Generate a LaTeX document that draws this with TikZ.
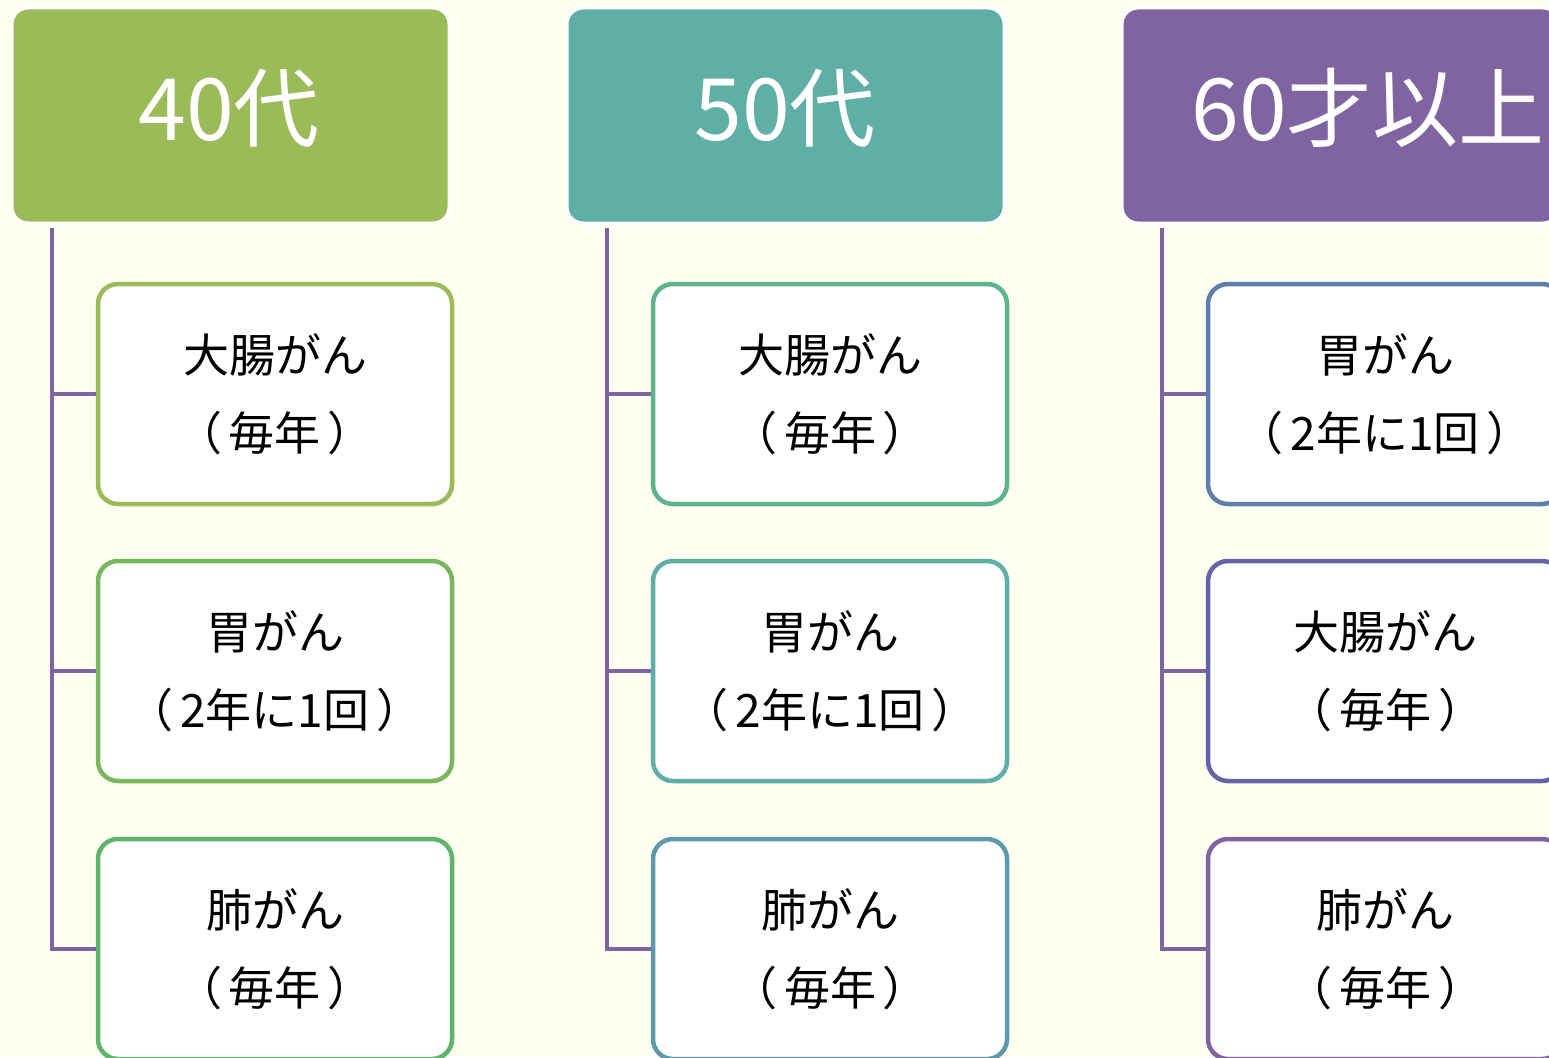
\documentclass[tikz,border=0pt]{standalone}
\usepackage{fontspec}
\newfontfamily\jpfont{Noto Sans CJK JP}
\newcommand\kakko[1]{（\kern7pt#1\kern7pt）}
\definecolor{bgcream}{HTML}{FEFFF0}
\definecolor{agegreen}{HTML}{9BBB59}
\definecolor{ageteal}{HTML}{5FAFA6}
\definecolor{agepurple}{HTML}{8064A2}
\definecolor{ka}{HTML}{9BBB59}
\definecolor{kb}{HTML}{78B75B}
\definecolor{kc}{HTML}{5DB46A}
\definecolor{kd}{HTML}{5DB38C}
\definecolor{ke}{HTML}{5FAFA6}
\definecolor{kf}{HTML}{5F99AD}
\definecolor{kg}{HTML}{5F7EAE}
\definecolor{kh}{HTML}{6563A8}
\definecolor{ki}{HTML}{8064A2}
\begin{document}
\begin{tikzpicture}[x=1pt,y=-1pt]
        \tikzstyle{agebox}=[rectangle,rounded corners=16pt,draw=white,line width=3pt,minimum width=437pt,minimum height=215pt,inner sep=0pt]
        \tikzstyle{agetext}=[text=white,font=\jpfont\fontsize{86}{90}\selectfont,inner sep=0pt]
        \tikzstyle{exam}=[rectangle,rounded corners=20pt,fill=white,line width=4.5pt,minimum width=354pt,minimum height=220pt,inner sep=0pt,align=center,font=\jpfont\fontsize{46}{78}\selectfont]
        \tikzstyle{edge}=[draw=agepurple,line width=4pt]
        \useasboundingbox (0,0) rectangle (1549,1057);
        \fill[bgcream] (0,0) rectangle (1549,1057);
        \clip (0,0) rectangle (1549,1057);
       % headers
         \node [agebox,fill=agegreen] (h1) at (230.5,115.5) {};
         \node [agebox,fill=ageteal] (h2) at (785.5,115.5) {};
         \node [agebox,fill=agepurple] (h3) at (1340.5,115.5) {};
         \node [agetext] (l1) at (229,108) {40代};
         \node [agetext] (l2) at (785,108) {50代};
         \node [agetext] (l3) at (1368,108) {60才以上};
       % 40
         \node [exam,draw=ka] (k11) at (275,394) {大腸がん\\\kakko{毎年}};
         \node [exam,draw=kb] (k12) at (275,671) {胃がん\\\kakko{2年に1回}};
         \node [exam,draw=kc] (k13) at (275,949) {肺がん\\\kakko{毎年}};
       % 50
         \node [exam,draw=kd] (k21) at (830,394) {大腸がん\\\kakko{毎年}};
         \node [exam,draw=ke] (k22) at (830,671) {胃がん\\\kakko{2年に1回}};
         \node [exam,draw=kf] (k23) at (830,949) {肺がん\\\kakko{毎年}};
       % 60
         \node [exam,draw=kg] (k31) at (1385,394) {胃がん\\\kakko{2年に1回}};
         \node [exam,draw=kh] (k32) at (1385,671) {大腸がん\\\kakko{毎年}};
         \node [exam,draw=ki] (k33) at (1385,949) {肺がん\\\kakko{毎年}};
       % lines
         \coordinate (t1) at (52,228);
         \coordinate (t2) at (607,228);
         \coordinate (t3) at (1162,228);
         \path[edge] (t1) |- (k13.west);
         \path[edge] (t1 |- k11.west) -- (k11.west);
         \path[edge] (t1 |- k12.west) -- (k12.west);
         \path[edge] (t2) |- (k23.west);
         \path[edge] (t2 |- k21.west) -- (k21.west);
         \path[edge] (t2 |- k22.west) -- (k22.west);
         \path[edge] (t3) |- (k33.west);
         \path[edge] (t3 |- k31.west) -- (k31.west);
         \path[edge] (t3 |- k32.west) -- (k32.west);
      \end{tikzpicture}
\end{document}
